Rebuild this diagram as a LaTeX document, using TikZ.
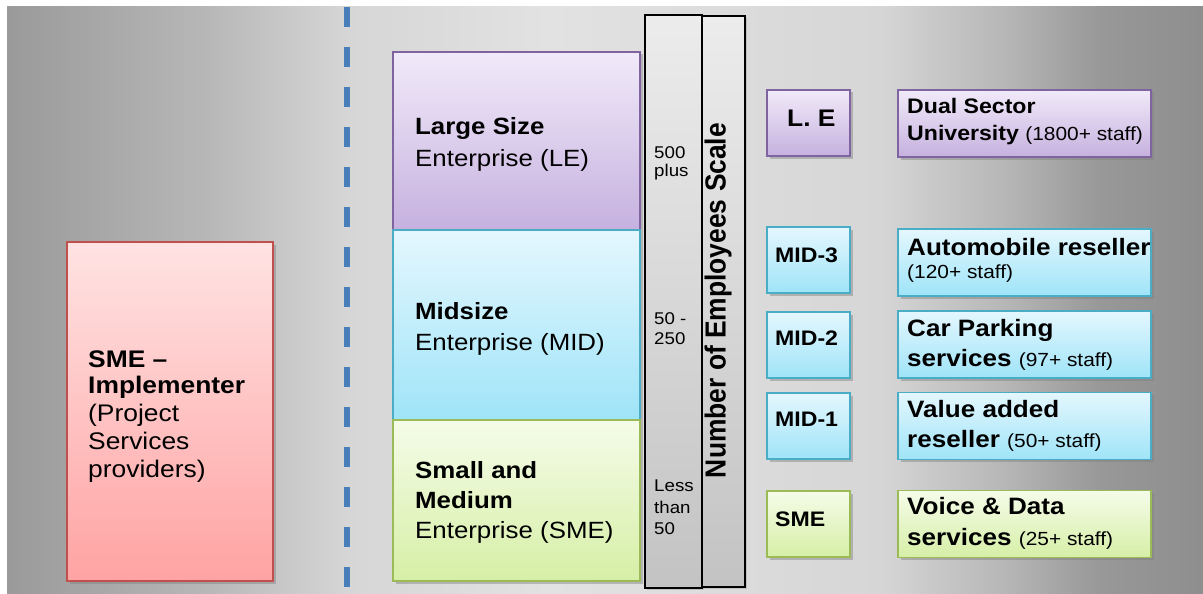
\documentclass[tikz,border=0pt]{standalone}
\usepackage{fontspec}
\setmainfont{Liberation Sans}[FakeStretch=1.1]
\newfontfamily\plainsans{Liberation Sans}
\usetikzlibrary{shadows}

% palette
\definecolor{bg0}{HTML}{9A9A9A}
\definecolor{bg1}{HTML}{B6B6B6}
\definecolor{bg2}{HTML}{D6D6D6}
\definecolor{bg3}{HTML}{E2E2E2}
\definecolor{bg4}{HTML}{D6D6D6}
\definecolor{bg5}{HTML}{B8B8B8}
\definecolor{bg6}{HTML}{989898}
\definecolor{bg7}{HTML}{8E8E8E}
\definecolor{dashblue}{HTML}{4A7EBB}
\definecolor{pdraw}{HTML}{8064A2}
\definecolor{ptop}{HTML}{F1EAF9}
\definecolor{pbot}{HTML}{C6B1DF}
\definecolor{bdraw}{HTML}{4BACC6}
\definecolor{btop}{HTML}{E4F7FE}
\definecolor{bbot}{HTML}{9FE4F8}
\definecolor{gdraw}{HTML}{9BBB59}
\definecolor{gtop}{HTML}{F5FCE9}
\definecolor{gbot}{HTML}{D6EFA6}
\definecolor{rdraw}{HTML}{C0504D}
\definecolor{rtop}{HTML}{FFE3E3}
\definecolor{rbot}{HTML}{FFA3A3}
\definecolor{bartop}{HTML}{ECECEC}
\definecolor{barbot}{HTML}{C3C3C3}

\pgfdeclarehorizontalshading{bgshade}{100bp}{%
  color(0bp)=(bg0); color(25bp)=(bg0); color(33.1bp)=(bg1);
  color(39.3bp)=(bg2); color(47.7bp)=(bg3); color(61.5bp)=(bg4);
  color(66.5bp)=(bg5); color(70.7bp)=(bg6); color(75bp)=(bg7);
  color(100bp)=(bg7)}

\tikzset{
  box/.style={rectangle, inner sep=0pt, line width=1.6pt,
    drop shadow={shadow xshift=2.5pt, shadow yshift=-2.5pt, opacity=0.45}},
  purplebox/.style={box, draw=pdraw, top color=ptop, bottom color=pbot},
  bluebox/.style={box, draw=bdraw, top color=btop, bottom color=bbot},
  greenbox/.style={box, draw=gdraw, top color=gtop, bottom color=gbot},
  redbox/.style={box, draw=rdraw, top color=rtop, bottom color=rbot},
  scalebar/.style={rectangle, inner sep=0pt, line width=1.8pt, draw=black,
    top color=bartop, bottom color=barbot,
    drop shadow={shadow xshift=2pt, shadow yshift=-2pt, opacity=0.3}},
  tierbox/.style={minimum width=247pt},
  tagbox/.style={minimum width=83pt, minimum height=66pt},
  firmbox/.style={minimum width=253pt, minimum height=67pt},
  txt/.style={anchor=base west, inner sep=0pt, text=black},
  tierbold/.style={txt, font=\bfseries\fontsize{23.5}{28}\selectfont},
  tierreg/.style={txt, font=\fontsize{23.5}{28}\selectfont},
  implbold/.style={txt, font=\bfseries\fontsize{24}{28}\selectfont},
  implreg/.style={txt, font=\fontsize{24}{28}\selectfont},
  rangetxt/.style={txt, font=\fontsize{17}{20}\selectfont},
  tagtxt/.style={txt, font=\bfseries\fontsize{21}{24}\selectfont},
  firmtxt/.style={txt, font=\bfseries\fontsize{23.7}{28}\selectfont},
}
\newcommand{\staffnote}[1]{{\mdseries\fontsize{19}{22}\selectfont #1}}

\begin{document}
\begin{tikzpicture}[x=1pt, y=-1pt]
  \useasboundingbox (0,0) rectangle (1203,594);
  \fill[white] (0,0) rectangle (1203,594);
  \shade[shading=bgshade] (7,7) rectangle (1203,594);

  % dividing line
  \coordinate (dtop) at (347,7);
  \coordinate (dbot) at (347,594);
  \draw[dashblue, line width=5.3pt, dash pattern=on 20pt off 20pt] (dtop) -- (dbot);

  % implementer
  \node[redbox, minimum width=206pt, minimum height=339pt] (impl) at (170,411.5) {};
  \node[implbold] (impl1) at (88,367) {SME –};
  \node[implbold] (impl2) at (88,393) {Implementer};
  \node[implreg]  (impl3) at (88,421) {(Project};
  \node[implreg]  (impl4) at (88,449) {Services};
  \node[implreg]  (impl5) at (88,477) {providers)};

  % enterprise tiers
  \node[purplebox, tierbox, minimum height=178pt] (le) at (516.5,141) {};
  \node[bluebox, tierbox, minimum height=190pt] (mid) at (516.5,325) {};
  \node[greenbox, tierbox, minimum height=161pt] (sme) at (516.5,500.5) {};
  \node[tierbold] (le1) at (415,134.5) {Large Size};
  \node[tierreg]  (le2) at (415,166.5) {Enterprise (LE)};
  \node[tierbold] (mid1) at (415,319) {Midsize};
  \node[tierreg]  (mid2) at (415,350) {Enterprise (MID)};
  \node[tierbold] (sme1) at (415,478) {Small and};
  \node[tierbold] (sme2) at (415,508) {Medium};
  \node[tierreg]  (sme3) at (415,538) {Enterprise (SME)};

  % employee scale
  \node[scalebar, minimum width=57pt, minimum height=573pt] (bar1) at (673.5,301.5) {};
  \node[scalebar, minimum width=43pt, minimum height=571pt] (bar2) at (723.5,301.5) {};
  \node[rangetxt] (r1a) at (654,158) {500};
  \node[rangetxt] (r1b) at (654,176) {plus};
  \node[rangetxt] (r2a) at (654,324.5) {50 -};
  \node[rangetxt] (r2b) at (654,344.5) {250};
  \node[rangetxt] (r3a) at (654,491.5) {Less};
  \node[rangetxt] (r3b) at (654,513) {than};
  \node[rangetxt] (r3c) at (654,534) {50};
  \node[anchor=base, inner sep=0pt, rotate=90,
        font=\plainsans\bfseries\fontsize{26.4}{30}\selectfont] (scaletitle)
        at (725.7,300.5) {\scalebox{1}[1.1]{Number of Employees Scale}};

  % category tags
  \node[purplebox, tagbox] (tle) at (808.5,123) {};
  \node[bluebox, tagbox] (tm3) at (808.5,260) {};
  \node[bluebox, tagbox] (tm2) at (808.5,345) {};
  \node[bluebox, tagbox] (tm1) at (808.5,426) {};
  \node[greenbox, tagbox] (tsme) at (808.5,524) {};
  \node[tagtxt, font=\bfseries\fontsize{24}{28}\selectfont] (tlet) at (787,126.7) {L. E};
  \node[tagtxt] (tm3t) at (775,262.7) {MID-3};
  \node[tagtxt] (tm2t) at (775,345.7) {MID-2};
  \node[tagtxt] (tm1t) at (775,426.7) {MID-1};
  \node[tagtxt] (tsmet) at (775,526.7) {SME};

  % example organisations
  \node[purplebox, firmbox] (fdual) at (1024.5,123.5) {};
  \node[bluebox, firmbox] (fauto) at (1024.5,262.5) {};
  \node[bluebox, firmbox] (fcar) at (1024.5,344.5) {};
  \node[bluebox, firmbox] (fval) at (1024.5,426) {};
  \node[greenbox, firmbox] (fvoice) at (1024.5,524) {};

  \node[firmtxt, font=\bfseries\fontsize{21}{24}\selectfont] (fdual1) at (907,113.7) {Dual Sector};
  \node[firmtxt, font=\bfseries\fontsize{21}{24}\selectfont] (fdual2) at (907,140.3) {University \staffnote{(1800+ staff)}};
  \node[firmtxt] (fauto1) at (907,255) {Automobile reseller};
  \node[firmtxt] (fauto2) at (907,278) {\staffnote{(120+ staff)}};
  \node[firmtxt] (fcar1) at (907,336) {Car Parking};
  \node[firmtxt] (fcar2) at (907,366) {services \staffnote{(97+ staff)}};
  \node[firmtxt] (fval1) at (907,417.3) {Value added};
  \node[firmtxt] (fval2) at (907,447.3) {reseller \staffnote{(50+ staff)}};
  \node[firmtxt] (fvoice1) at (907,514.3) {Voice \& Data};
  \node[firmtxt] (fvoice2) at (907,545.7) {services \staffnote{(25+ staff)}};
\end{tikzpicture}
\end{document}
